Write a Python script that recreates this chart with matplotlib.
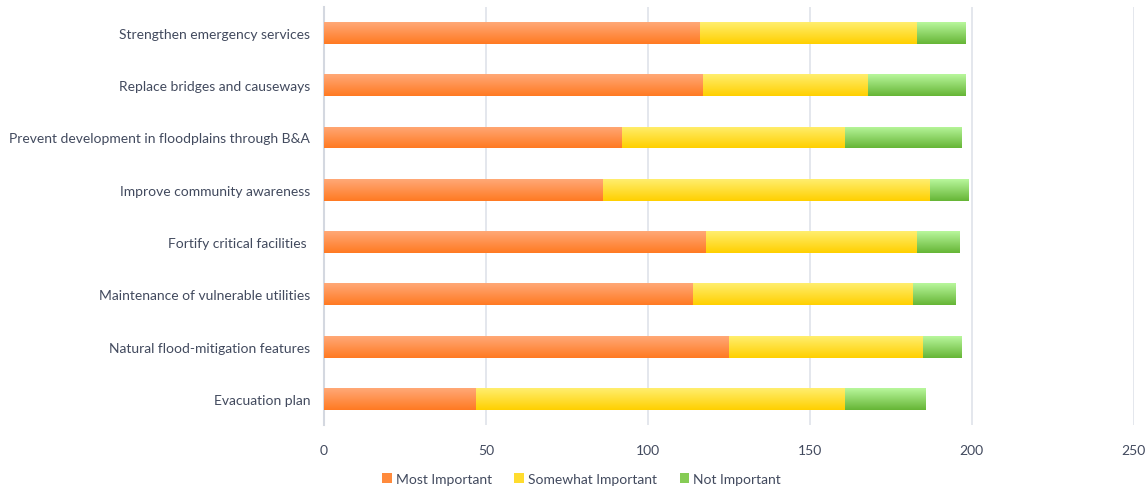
import numpy as np
import matplotlib.pyplot as plt
from matplotlib.colors import LinearSegmentedColormap

# survey categories, top to bottom as in the chart
categories = ['Strengthen emergency services',
              'Replace bridges and causeways',
              'Prevent development in floodplains through B&A',
              'Improve community awareness',
              'Fortify critical facilities ',
              'Maintenance of vulnerable utilities',
              'Natural flood-mitigation features',
              'Evacuation plan']

most_important = [116, 117, 92, 86, 118, 114, 125, 47]
somewhat_important = [67, 51, 69, 101, 65, 68, 60, 114]
not_important = [15, 30, 36, 12, 13, 13, 12, 25]

series_names = ['Most Important', 'Somewhat Important', 'Not Important']
# (top, bottom) gradient colours for each series
grad = [('#ffa877', '#ff7a22'), ('#ffee6e', '#ffd000'), ('#b8f79c', '#66b536')]
solid = ['#ff8a3c', '#ffdc2e', '#86cc55']

plt.rcParams['font.family'] = ['Lato', 'DejaVu Sans']
text_col = '#424a5e'

fig = plt.figure(figsize=(11.45, 4.89), dpi=100)
ax = fig.add_axes([0.283, 0.129, 0.707, 0.855])

y = np.arange(len(categories))
left = np.zeros(len(categories))
values = [most_important, somewhat_important, not_important]
for i, vals in enumerate(values):
    bars = ax.barh(y, vals, left=left, height=0.42, color=solid[i],
                   label=series_names[i], zorder=2)
    cmap = LinearSegmentedColormap.from_list('g%d' % i, [grad[i][0], grad[i][1]])
    for b in bars:
        x0, y0 = b.get_x(), b.get_y()
        w, h = b.get_width(), b.get_height()
        # light on top, darker at the bottom
        im = ax.imshow(np.linspace(1, 0, 64).reshape(-1, 1), cmap=cmap,
                       extent=[x0, x0 + w, y0 + h, y0], aspect='auto',
                       zorder=3, origin='lower')
        im.set_clip_path(b)
    left = left + np.array(vals)

ax.set_xlim(0, 250)
ax.set_ylim(len(categories) - 0.5, -0.5)
ax.set_xticks(np.arange(0, 251, 50))
ax.set_yticks(y)
ax.set_yticklabels(categories)
ax.xaxis.grid(True, color='#dfe3ea', lw=1.2, zorder=0)
ax.set_axisbelow(True)
for s in ['top', 'right', 'bottom']:
    ax.spines[s].set_visible(False)
ax.spines['left'].set_color('#d4d8e0')
ax.spines['left'].set_linewidth(1.5)
ax.tick_params(axis='both', length=0, labelsize=10, labelcolor=text_col)
ax.tick_params(axis='y', pad=10)
ax.tick_params(axis='x', pad=14)

handles, labels = ax.get_legend_handles_labels()
fig.legend(handles, labels, loc='center', bbox_to_anchor=(0.508, 0.018),
           ncol=3, frameon=False, fontsize=10, labelcolor=text_col,
           handlelength=0.7, handleheight=0.7, handletextpad=0.3,
           columnspacing=1.6)

fig.savefig('out.png', dpi=100)
